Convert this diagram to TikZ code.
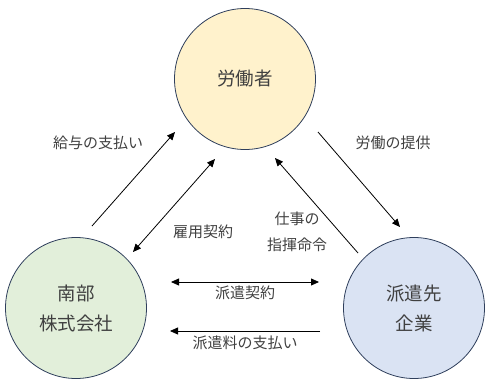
\documentclass[tikz,border=0pt]{standalone}
\usepackage{fontspec}
\setmainfont{Noto Sans CJK JP}
\usetikzlibrary{arrows.meta,positioning}
\definecolor{workerfill}{HTML}{FFF2CC}
\definecolor{agencyfill}{HTML}{E2EFDA}
\definecolor{clientfill}{HTML}{DAE3F3}
\definecolor{ringline}{HTML}{2F3F5C}
\definecolor{textgray}{HTML}{404040}

\begin{document}
\begin{tikzpicture}[
    x=1pt, y=-1pt,
    party/.style={circle, draw=ringline, line width=0.8pt, minimum size=141pt, inner sep=0pt, align=center, text=textgray, font=\fontsize{18.5}{30}\selectfont},
    flowtext/.style={align=center, inner sep=0pt, text=textgray, font=\fontsize{15}{26}\selectfont},
    arrow/.style={-{Triangle[length=8pt,width=7pt]}, line width=0.8pt},
    twoway/.style={{Triangle[length=8pt,width=7pt]}-{Triangle[length=8pt,width=7pt]}, line width=0.8pt}
]
\useasboundingbox (0,0) rectangle (493,391);

% the three parties
\node[party, fill=workerfill] (worker) at (245,79) {労働者};
\node[party, fill=agencyfill] (agency) at (76,308) {南部\\株式会社};
\node[party, fill=clientfill] (client) at (414,308) {派遣先\\企業};

% arrow ends
\coordinate (wageS) at (92,226);
\coordinate (wageE) at (175,132);
\coordinate (hireS) at (133,252);
\coordinate (hireE) at (215,159);
\coordinate (laborS) at (318,132);
\coordinate (laborE) at (400,227);
\coordinate (orderS) at (358,253);
\coordinate (orderE) at (275,158);
\coordinate (dispL) at (171,282);
\coordinate (dispR) at (319,282);
\coordinate (feeS) at (320,331);
\coordinate (feeE) at (170,331);

\draw[arrow] (wageS) -- (wageE);
\draw[twoway] (hireS) -- (hireE);
\draw[arrow] (laborS) -- (laborE);
\draw[arrow] (orderS) -- (orderE);
\draw[twoway] (dispL) -- (dispR);
\draw[arrow] (feeS) -- (feeE);

% labels
\node[flowtext] (wage) at (98,143) {給与の支払い};
\node[flowtext] (hire) at (203,232) {雇用契約};
\node[flowtext] (labor) at (393,143) {労働の提供};
\node[flowtext] (order) at (297,232) {仕事の\\指揮命令};
\node[flowtext] (disp) at (245,293) {派遣契約};
\node[flowtext] (fee) at (245,343) {派遣料の支払い};

\end{tikzpicture}
\end{document}
